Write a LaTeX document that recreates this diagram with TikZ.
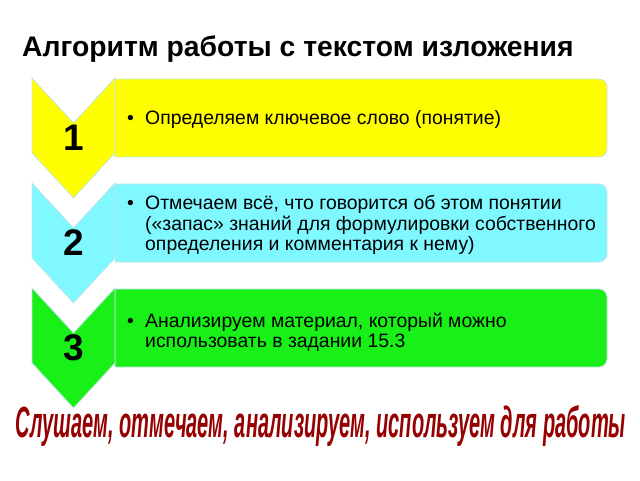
\documentclass[tikz,border=0pt]{standalone}
\usepackage{fontspec}
\setmainfont{Liberation Sans}
\definecolor{stepyellow}{RGB}{255,255,0}
\definecolor{stepcyan}{RGB}{128,248,255}
\definecolor{stepgreen}{RGB}{24,240,24}
\definecolor{rimblue}{RGB}{196,228,232}
\definecolor{mottored}{RGB}{150,0,0}

\begin{document}
\begin{tikzpicture}[x=1pt,y=1pt,
	chevronshape/.style={draw=rimblue,line width=0.8pt},
	itembox/.style={draw=rimblue,line width=0.8pt},
	stepnum/.style={font=\bfseries\fontsize{37}{37}\selectfont,inner sep=0pt},
	itemtext/.style={anchor=west,align=left,inner sep=0pt,font=\fontsize{19.4}{20.5}\selectfont},
	itembullet/.style={anchor=base east,inner sep=0pt,font=\fontsize{19.4}{20.5}\selectfont}]
	\useasboundingbox (0,0) rectangle (640,480);
	\node[anchor=base west,inner sep=0pt,font=\bfseries\fontsize{28.3}{28.3}\selectfont] (title) at (22,423) {Алгоритм работы с текстом изложения};
	\foreach \n/\yt/\col in {1/402/stepyellow,2/297/stepcyan,3/192/stepgreen}{
		\draw[itembox,fill=\col] (115,\yt-79) -- (115,\yt-1) -- (599,\yt-1) arc[start angle=90,end angle=0,radius=8pt] -- (607,\yt-71) arc[start angle=0,end angle=-90,radius=8pt] -- cycle;
		\draw[chevronshape,fill=\col] (32,\yt) -- (73.5,\yt-45) -- (115,\yt) -- (115,\yt-75) -- (73.5,\yt-120) -- (32,\yt-75) -- cycle;
		\node[stepnum] (num\n) at (73.5,\yt-60) {\n};
	}
	\node[itemtext] (item1) at (145,361) {Определяем ключевое слово (понятие)};
	\node[itemtext] (item2) at (145,255) {Отмечаем всё, что говорится об этом понятии\\(«запас» знаний для формулировки собственного\\определения и комментария к нему)};
	\node[itemtext] (item3) at (145,148) {Анализируем материал, который можно\\использовать в задании 15.3};
	\node[itembullet] (dot1) at ([xshift=-11pt]item1.base west) {•};
	\node[itembullet] (dot2) at ([xshift=-11pt,yshift=41pt]item2.base west) {•};
	\node[itembullet] (dot3) at ([xshift=-11pt,yshift=20.5pt]item3.base west) {•};
	\node[anchor=base,inner sep=0pt,text=mottored] (motto) at (321,43) {\resizebox{610pt}{32pt}{\bfseries\itshape Слушаем, отмечаем, анализируем, используем для работы}};
\end{tikzpicture}
\end{document}
